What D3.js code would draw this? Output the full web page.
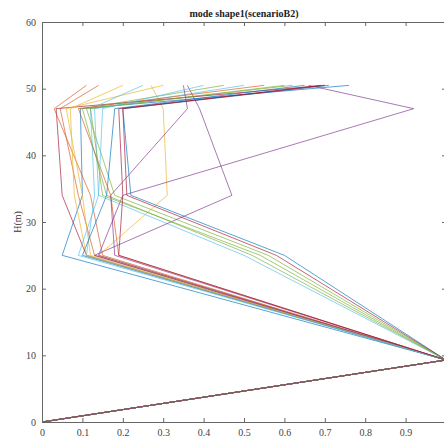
<!DOCTYPE html>
<html>
<head>
<meta charset="utf-8">
<script src="https://cdn.jsdelivr.net/npm/d3@7"></script>
<style>
  body { margin: 0; background: #fff; }
  text { font-family: "Liberation Serif", "DejaVu Serif", serif; }
</style>
</head>
<body>
<div id="chart"></div>
<script>
// node heights (m), same for every mode line
let heights = [0, 9.3, 25, 34, 47, 50.5];

// x values of each line at the heights above
let seriesX = [
    [0, 1, 0.05, 0.10, 0.095, 0.76],
    [0, 1, 0.13, 0.09, 0.045, 0.14],
    [0, 1, 0.14, 0.31, 0.30, 0.27],
    [0, 1, 0.14, 0.20, 0.92, 0.66],
    [0, 1, 0.56, 0.18, 0.11, 0.62],
    [0, 1, 0.50, 0.14, 0.13, 0.50],
    [0, 1, 0.11, 0.05, 0.035, 0.70],
    [0, 1, 0.60, 0.22, 0.20, 0.71],
    [0, 1, 0.15, 0.12, 0.03, 0.11],
    [0, 1, 0.12, 0.10, 0.06, 0.30],
    [0, 1, 0.13, 0.47, 0.39, 0.36],
    [0, 1, 0.52, 0.16, 0.10, 0.45],
    [0, 1, 0.11, 0.13, 0.12, 0.25],
    [0, 1, 0.58, 0.21, 0.20, 0.69],
    [0, 1, 0.10, 0.16, 0.18, 0.65],
    [0, 1, 0.19, 0.17, 0.09, 0.55],
    [0, 1, 0.11, 0.08, 0.07, 0.20],
    [0, 1, 0.18, 0.17, 0.36, 0.35],
    [0, 1, 0.54, 0.15, 0.12, 0.60],
    [0, 1, 0.09, 0.14, 0.15, 0.40],
    [0, 1, 0.19, 0.20, 0.19, 0.70]
];

// matlab colour order
let lineColors = ['#0072BD', '#D95319', '#EDB120', '#7E2F8E', '#77AC30', '#4DBEEE', '#A2142F'];

let xTicks = [0, 0.1, 0.2, 0.3, 0.4, 0.5, 0.6, 0.7, 0.8, 0.9, 1];
let yTicks = [0, 10, 20, 30, 40, 50, 60];

let svgWidth = 444;
let svgHeight = 440;
let margin = {top: 22, right: -2, bottom: 18, left: 42};
let chartWidth = svgWidth - margin.left - margin.right;
let chartHeight = svgHeight - margin.top - margin.bottom;

let svg = d3.select('#chart')
    .append('svg')
    .attr('width', svgWidth)
    .attr('height', svgHeight);

let g = svg.append('g')
    .attr('transform', `translate(${margin.left},${margin.top})`);

let x = d3.scaleLinear().domain([0, 1]).range([0, chartWidth]);
let y = d3.scaleLinear().domain([0, 60]).range([chartHeight, 0]);

// lines
let line = d3.line()
    .x(d => x(d[0]))
    .y(d => y(d[1]));

g.selectAll('.mode')
    .data(seriesX)
    .enter()
    .append('path')
    .attr('class', 'mode')
    .attr('d', xs => line(xs.map((v, i) => [v, heights[i]])))
    .attr('fill', 'none')
    .attr('stroke', (d, i) => lineColors[i % lineColors.length])
    .attr('stroke-opacity', 0.65)
    .attr('stroke-width', 1);

// axes, ticks inward like matlab
let axisColor = '#666';
let bottomAxis = d3.axisBottom(x).tickValues(xTicks).tickSize(-4).tickPadding(7)
    .tickFormat(d => d === 0 || d === 1 ? d : d3.format('.1f')(d));
let topAxis = d3.axisTop(x).tickValues(xTicks).tickSize(-4).tickFormat('');
let leftAxis = d3.axisLeft(y).tickValues(yTicks).tickSize(-4).tickPadding(6);
let rightAxis = d3.axisRight(y).tickValues(yTicks).tickSize(-4).tickFormat('');

let axes = [
    g.append('g').attr('transform', `translate(0,${chartHeight})`).call(bottomAxis),
    g.append('g').call(topAxis),
    g.append('g').call(leftAxis),
    g.append('g').attr('transform', `translate(${chartWidth},0)`).call(rightAxis)
];
axes.forEach(a => {
    a.selectAll('path, line').attr('stroke', axisColor);
    a.selectAll('text').attr('fill', '#444').style('font-size', '10px')
        .style('font-family', '"Liberation Serif", serif');
});

// title
svg.append('text')
    .attr('x', margin.left + chartWidth / 2)
    .attr('y', 17)
    .attr('text-anchor', 'middle')
    .style('font-size', '10px')
    .style('font-weight', 'bold')
    .attr('fill', '#222')
    .text('mode shape1(scenarioB2)');

// y label
svg.append('text')
    .attr('transform', `translate(21,${margin.top + chartHeight / 2}) rotate(-90)`)
    .attr('text-anchor', 'middle')
    .style('font-size', '10px')
    .attr('fill', '#333')
    .text('H(m)');
</script>
</body>
</html>
